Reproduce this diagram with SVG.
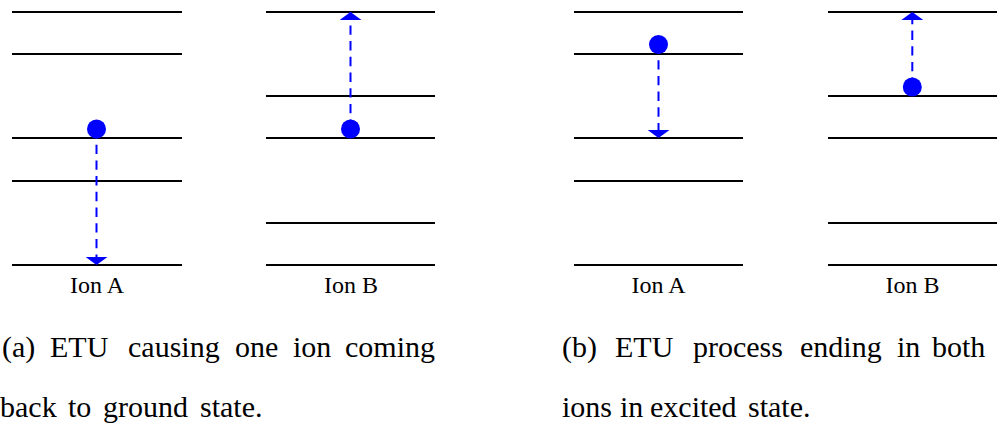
<svg xmlns="http://www.w3.org/2000/svg" width="997" height="424" viewBox="0 0 997 424">
<style>
.lvl{stroke:#000;stroke-width:2;fill:none}
.dot{fill:#0000ff}
.arr{stroke:#0000ff;stroke-width:2;fill:none;stroke-dasharray:9.4 6.3;marker-end:url(#ah)}
.lab{font-size:24px;fill:#000;text-anchor:middle}
.cap{font-size:30px;fill:#000}
</style>
<defs>
<marker id="ah" markerUnits="userSpaceOnUse" viewBox="0 0 8 22" refX="8" refY="11" markerWidth="8" markerHeight="22" orient="auto">
<path d="M0,0 L8,11 L0,22 Z" fill="#0000ff"/>
</marker>
</defs>
<g id="ionA1">
<path class="lvl" d="M12,12H182M12,54H182M12,138H182M12,181H182M12,265H182"/>
<circle class="dot" cx="96.5" cy="129" r="9.5"/>
<text class="lab" font-family="'Liberation Serif', 'Times New Roman', 'DejaVu Serif', serif" x="97" y="293">Ion A</text>
</g>
<g id="ionB1">
<path class="lvl" d="M266,12H435M266,96H435M266,138H435M266,223H435M266,265H435"/>
<circle class="dot" cx="350.5" cy="129" r="9.5"/>
<text class="lab" font-family="'Liberation Serif', 'Times New Roman', 'DejaVu Serif', serif" x="351" y="293">Ion B</text>
</g>
<g id="ionA2">
<path class="lvl" d="M574,12H743M574,54H743M574,138H743M574,181H743M574,265H743"/>
<circle class="dot" cx="658.5" cy="44.5" r="9.5"/>
<text class="lab" font-family="'Liberation Serif', 'Times New Roman', 'DejaVu Serif', serif" x="658.5" y="293">Ion A</text>
</g>
<g id="ionB2">
<path class="lvl" d="M828,12H997M828,96H997M828,138H997M828,223H997M828,265H997"/>
<circle class="dot" cx="912.3" cy="87" r="9.5"/>
<text class="lab" font-family="'Liberation Serif', 'Times New Roman', 'DejaVu Serif', serif" x="912.5" y="293">Ion B</text>
</g>
<g id="connectors">
<path class="arr" d="M96.5,129V265"/>
<path class="arr" d="M350.5,129V12"/>
<path class="arr" d="M658.5,44.5V138"/>
<path class="arr" d="M912.3,87V12"/>
</g>
<g id="captionA" font-family="'Liberation Serif', 'Times New Roman', 'DejaVu Serif', serif">
<text class="cap" y="357"><tspan x="2">(a)</tspan><tspan x="50">ETU</tspan><tspan x="128">causing</tspan><tspan x="235">one</tspan><tspan x="293">ion</tspan><tspan x="345">coming</tspan></text>
<text class="cap" y="417"><tspan x="0">back</tspan><tspan x="68">to</tspan><tspan x="103">ground</tspan><tspan x="200">state.</tspan></text>
</g>
<g id="captionB" font-family="'Liberation Serif', 'Times New Roman', 'DejaVu Serif', serif">
<text class="cap" y="357"><tspan x="562">(b)</tspan><tspan x="615">ETU</tspan><tspan x="693">process</tspan><tspan x="800">ending</tspan><tspan x="897">in</tspan><tspan x="932">both</tspan></text>
<text class="cap" y="417"><tspan x="562">ions</tspan><tspan x="620">in</tspan><tspan x="650">excited</tspan><tspan x="748">state.</tspan></text>
</g>
</svg>
